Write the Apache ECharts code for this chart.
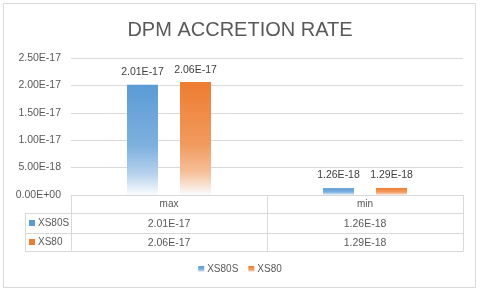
<!DOCTYPE html>
<html><head><meta charset="utf-8">
<script src="https://cdn.jsdelivr.net/npm/echarts@6/dist/echarts.min.js"></script>
<style>html,body{margin:0;padding:0;background:#fff}#c{width:480px;height:291px}</style>
</head><body><div id="c"></div>
<script>
const title = 'DPM ACCRETION RATE';
const categories = ['max', 'min'];
const seriesNames = ['XS80S', 'XS80'];
const xs80s = [2.01e-17, 1.26e-18];
const xs80 = [2.06e-17, 1.29e-18];
const yMin = 0, yMax = 2.5e-17, yStep = 5e-18;

const colors = ['#5B9BD5', '#ED7D31'];
const txt = '#595959';
const line = '#D9D9D9';
const FONT = 'Liberation Sans';
const NUM = 10.5;

function sci(v) {
  if (v === 0) return '0.00E+00';
  let e = Math.floor(Math.log10(Math.abs(v)));
  let m = v / Math.pow(10, e);
  if (Math.abs(m) >= 9.995) { m /= 10; e += 1; }
  const es = (e < 0 ? '-' : '+') + String(Math.abs(e)).padStart(2, '0');
  return m.toFixed(2) + 'E' + es;
}
function grad(c, light) {
  return new echarts.graphic.LinearGradient(0, 0, 0, 1, [
    {offset: 0, color: c}, {offset: 0.55, color: light[0]},
    {offset: 0.8, color: light[1]}, {offset: 1, color: '#FAFCFE'}]);
}

const G = {left: 71, right: 17, top: 58, bottom: 96};
const rowH = [18, 20, 18];
const chart = echarts.init(document.getElementById('c'), null, {renderer: 'canvas'});

const tableAxis = (offset, tickLen, fmt, showTicks, showLabel, fs) => ({
  type: 'category', data: categories, position: 'bottom', offset: offset,
  axisLine: {show: true, lineStyle: {color: line, width: 1}},
  axisTick: {show: showTicks, interval: 0, length: tickLen, lineStyle: {color: line}},
  axisLabel: {show: showLabel, interval: 0, color: txt, fontFamily: FONT, fontSize: fs,
    margin: (tickLen - fs) / 2 + 0.5, formatter: fmt},
  splitLine: {show: false}
});

const option = {
  animation: false,
  backgroundColor: '#fff',
  title: {text: title, left: 'center', top: 15,
    textStyle: {color: txt, fontFamily: FONT, fontSize: 20, fontWeight: 'normal'}},
  grid: G,
  legend: {data: seriesNames, left: 'center', itemWidth: 6, itemHeight: 6, itemGap: 10,
    top: 259, icon: 'rect', textStyle: {color: txt, fontFamily: FONT, fontSize: 10, padding: [0, 0, 0, -2]}},
  xAxis: [
    tableAxis(0, rowH[0], (v) => v, true, true, 10),
    tableAxis(rowH[0], rowH[1], (v, i) => sci(xs80s[i]), true, true, NUM),
    tableAxis(rowH[0] + rowH[1], rowH[2], (v, i) => sci(xs80[i]), true, true, NUM),
    tableAxis(rowH[0] + rowH[1] + rowH[2], 0, (v) => v, false, false, 10)
  ],
  yAxis: {type: 'value', min: yMin, max: yMax, interval: yStep,
    axisLine: {show: false}, axisTick: {show: false},
    axisLabel: {color: txt, fontFamily: FONT, fontSize: NUM, margin: 10, formatter: sci},
    splitLine: {lineStyle: {color: line}}},
  series: [
    {name: seriesNames[0], type: 'bar', data: xs80s, barWidth: 31, barGap: '71%',
      itemStyle: {color: grad(colors[0], ['#7EB0DF', '#B4D1EC'])},
      label: {show: true, position: 'top', distance: 7, color: '#404040', fontFamily: FONT, fontSize: NUM, formatter: (p) => sci(p.value)}},
    {name: seriesNames[1], type: 'bar', data: xs80, barWidth: 31,
      itemStyle: {color: grad(colors[1], ['#F19A5E', '#F6C09A'])},
      label: {show: true, position: 'top', distance: 7, color: '#404040', fontFamily: FONT, fontSize: NUM, formatter: (p) => sci(p.value)}}
  ]
};
chart.setOption(option);

// left legend column of the data table
const x0 = 25, x1 = G.left;
const yTop = 291 - G.bottom;
const y1 = yTop + rowH[0], y2 = y1 + rowH[1], y3 = y2 + rowH[2];
const gfx = [
  {type: 'rect', shape: {x: 3.5, y: 3.5, width: 472, height: 284}, style: {fill: 'none', stroke: line, lineWidth: 1}, silent: true, z: -1},
  {type: 'line', shape: {x1: x0 + 0.5, y1: y1, x2: x0 + 0.5, y2: y3}, style: {stroke: line}},
  {type: 'line', shape: {x1: x0, y1: y1 + 0.5, x2: x1, y2: y1 + 0.5}, style: {stroke: line}},
  {type: 'line', shape: {x1: x0, y1: y2 + 0.5, x2: x1, y2: y2 + 0.5}, style: {stroke: line}},
  {type: 'line', shape: {x1: x0, y1: y3 + 0.5, x2: x1, y2: y3 + 0.5}, style: {stroke: line}}
];
[[y1, y2], [y2, y3]].forEach((r, i) => {
  const cy = (r[0] + r[1]) / 2;
  gfx.push({type: 'rect', shape: {x: x0 + 4, y: cy - 3, width: 6, height: 6}, style: {fill: colors[i]}});
  gfx.push({type: 'text', x: x0 + 13, y: cy, style: {text: seriesNames[i], fill: txt, font: '10px "' + FONT + '"', verticalAlign: 'middle', align: 'left'}});
});
chart.setOption({graphic: gfx});
</script></body></html>
